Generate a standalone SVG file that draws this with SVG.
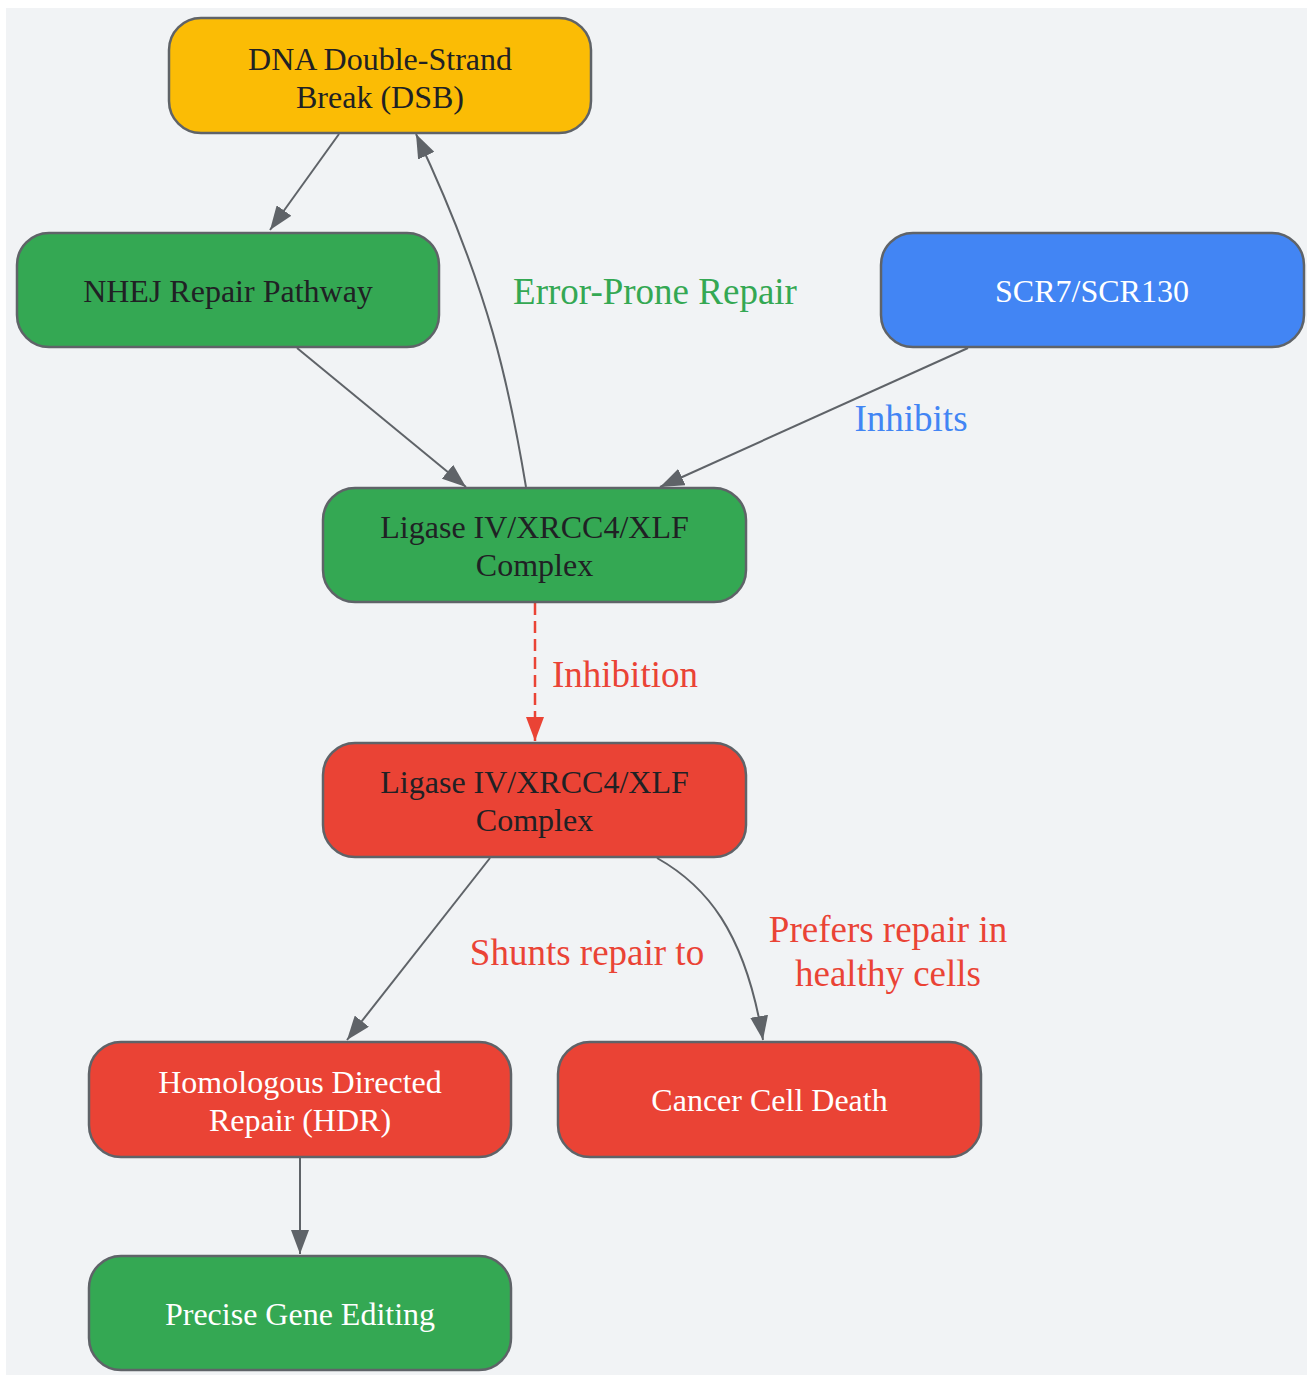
<svg xmlns="http://www.w3.org/2000/svg" width="1307" height="1375" viewBox="0 0 1307 1375">
<style>
.node rect{stroke:#5f6368;stroke-width:2.5}
.node text{font-family:"Liberation Serif","Times New Roman",serif;font-size:32px;text-anchor:middle}
.dark{fill:#202124}
.light{fill:#ffffff}
.edge{fill:none;stroke:#5f6368;stroke-width:2}
.lbl{font-family:"Liberation Serif","Times New Roman",serif;font-size:37px;text-anchor:middle}
</style>
<defs>
<marker id="ah" viewBox="0 0 24 18" refX="24" refY="9" markerUnits="userSpaceOnUse" markerWidth="24" markerHeight="18" orient="auto">
<path d="M0,0 L24,9 L0,18 z" fill="#5f6368"/>
</marker>
<marker id="ahr" viewBox="0 0 24 18" refX="24" refY="9" markerUnits="userSpaceOnUse" markerWidth="24" markerHeight="18" orient="auto">
<path d="M0,0 L24,9 L0,18 z" fill="#ea4335"/>
</marker>
</defs>
<rect x="0" y="0" width="1307" height="1375" fill="#ffffff"/>
<rect x="6" y="8" width="1301" height="1367" fill="#f1f3f5"/>
<g id="connectors">
<path class="edge" d="M339,134 L270,230" marker-end="url(#ah)"/>
<path class="edge" d="M526,487 C510,390 490,290 416,134" marker-end="url(#ah)"/>
<path class="edge" d="M297,348 L466,487" marker-end="url(#ah)"/>
<path class="edge" d="M968,348 L660,487" marker-end="url(#ah)"/>
<path d="M535,603 L535,741" fill="none" stroke="#ea4335" stroke-width="2.5" stroke-dasharray="12,6" marker-end="url(#ahr)"/>
<path class="edge" d="M490,858 L347,1040" marker-end="url(#ah)"/>
<path class="edge" d="M657,858 C705,885 745,930 763,1040" marker-end="url(#ah)"/>
<path class="edge" d="M300,1158 L300,1254" marker-end="url(#ah)"/>
<text class="lbl" x="655" y="304" fill="#34a853">Error-Prone Repair</text>
<text class="lbl" x="911" y="431" fill="#4285f4">Inhibits</text>
<text class="lbl" x="552" y="687" fill="#ea4335" style="text-anchor:start">Inhibition</text>
<text class="lbl" x="587" y="965" fill="#ea4335">Shunts repair to</text>
<text class="lbl" x="888" y="942" fill="#ea4335">Prefers repair in</text>
<text class="lbl" x="888" y="986" fill="#ea4335">healthy cells</text>
</g>
<g id="dsb" class="node">
<rect x="169" y="18" width="422" height="115" rx="32" fill="#fbbc05"/>
<text class="dark" x="380" y="70">DNA Double-Strand</text>
<text class="dark" x="380" y="108">Break (DSB)</text>
</g>
<g id="nhej" class="node">
<rect x="17" y="233" width="422" height="114" rx="32" fill="#34a853"/>
<text class="dark" x="228" y="302">NHEJ Repair Pathway</text>
</g>
<g id="scr7" class="node">
<rect x="881" y="233" width="423" height="114" rx="32" fill="#4285f4"/>
<text class="light" x="1092" y="302">SCR7/SCR130</text>
</g>
<g id="ligase" class="node">
<rect x="323" y="488" width="423" height="114" rx="32" fill="#34a853"/>
<text class="dark" x="534.5" y="538">Ligase IV/XRCC4/XLF</text>
<text class="dark" x="534.5" y="576">Complex</text>
</g>
<g id="ligase-inhibited" class="node">
<rect x="323" y="743" width="423" height="114" rx="32" fill="#ea4335"/>
<text class="dark" x="534.5" y="793">Ligase IV/XRCC4/XLF</text>
<text class="dark" x="534.5" y="831">Complex</text>
</g>
<g id="hdr" class="node">
<rect x="89" y="1042" width="422" height="115" rx="32" fill="#ea4335"/>
<text class="light" x="300" y="1093">Homologous Directed</text>
<text class="light" x="300" y="1131">Repair (HDR)</text>
</g>
<g id="cancer" class="node">
<rect x="558" y="1042" width="423" height="115" rx="32" fill="#ea4335"/>
<text class="light" x="769.5" y="1111">Cancer Cell Death</text>
</g>
<g id="precise" class="node">
<rect x="89" y="1256" width="422" height="114" rx="32" fill="#34a853"/>
<text class="light" x="300" y="1325">Precise Gene Editing</text>
</g>
</svg>
